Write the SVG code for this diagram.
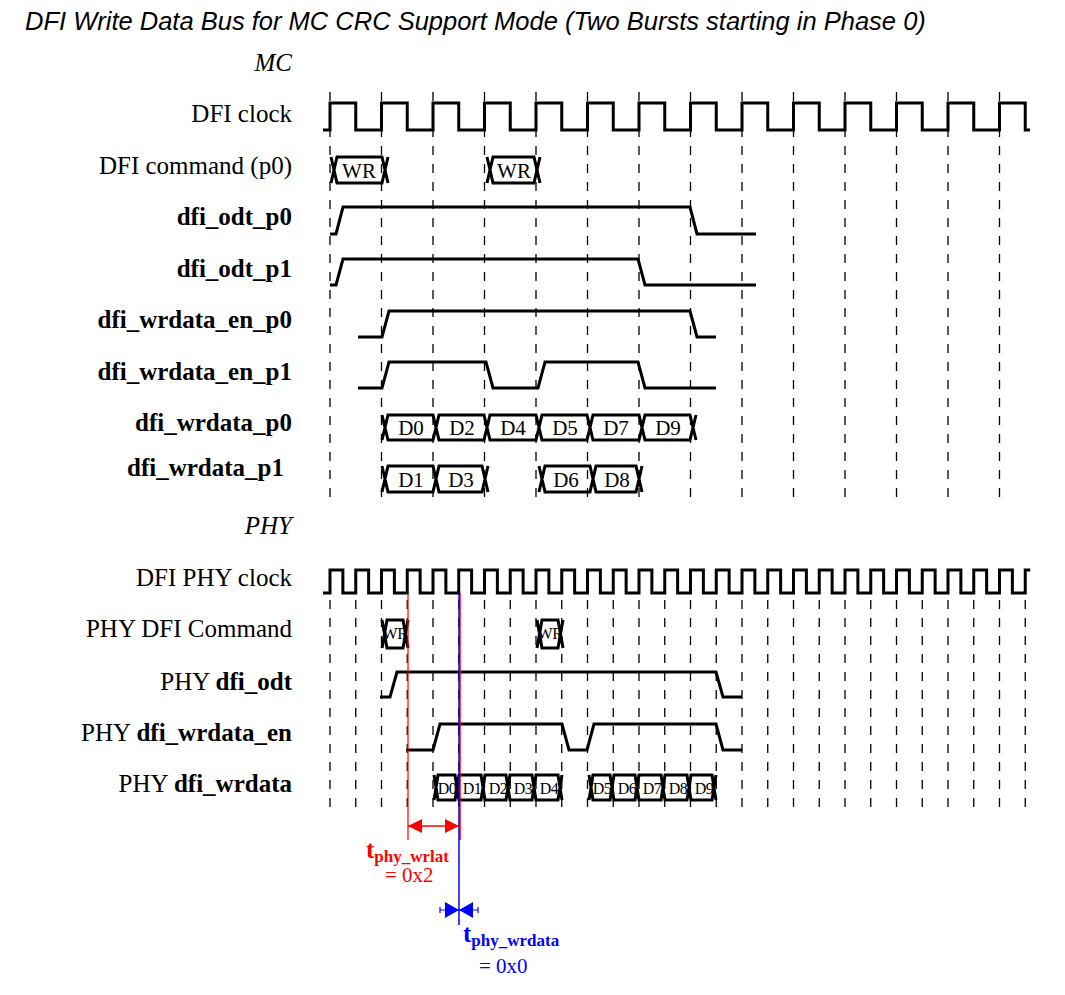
<svg xmlns="http://www.w3.org/2000/svg" width="1065" height="995" viewBox="0 0 1065 995">
<style>
.lb{font-family:"Liberation Serif",serif;font-size:25px;fill:#000;text-anchor:end}
.b{font-weight:bold}
.sig{fill:none;stroke:#000;stroke-width:3}
.dash{stroke:#000;stroke-width:1.3;stroke-dasharray:9,9}
.bx{font-family:"Liberation Serif",serif;font-size:21px;text-anchor:middle}
.bs{font-family:"Liberation Serif",serif;font-size:16px;text-anchor:middle;letter-spacing:-0.5px}
</style>
<rect width="1065" height="995" fill="#fff"/>
<text x="25" y="30" font-family="Liberation Sans,sans-serif" font-style="italic" font-size="25.5">DFI Write Data Bus for MC CRC Support Mode (Two Bursts starting in Phase 0)</text>
<text x="292" y="71" class="lb" font-style="italic">MC</text>
<text x="292" y="534" class="lb" font-style="italic">PHY</text>
<g id="labels">
<text x="292" y="122" class="lb">DFI clock</text>
<text x="292" y="174" class="lb">DFI command (p0)</text>
<text x="292" y="225" class="lb b">dfi_odt_p0</text>
<text x="292" y="277" class="lb b">dfi_odt_p1</text>
<text x="292" y="328" class="lb b">dfi_wrdata_en_p0</text>
<text x="292" y="380" class="lb b">dfi_wrdata_en_p1</text>
<text x="292" y="431" class="lb b">dfi_wrdata_p0</text>
<text x="284" y="476" class="lb b">dfi_wrdata_p1</text>
<text x="292" y="586" class="lb">DFI PHY clock</text>
<text x="292" y="637" class="lb">PHY DFI Command</text>
<text x="292" y="690" class="lb">PHY <tspan font-weight="bold">dfi_odt</tspan></text>
<text x="292" y="741" class="lb">PHY <tspan font-weight="bold">dfi_wrdata_en</tspan></text>
<text x="292" y="792" class="lb">PHY <tspan font-weight="bold">dfi_wrdata</tspan></text>
</g>
<g id="grid">
<path class="dash" d="M330,92V505M381.5,92V505M433,92V505M484.5,92V505M536,92V505M587.5,92V505M639,92V505M690.5,92V505M742,92V505M793.5,92V505M845,92V505M896.5,92V505M948,92V505M999.5,92V505"/>
<path class="dash" d="M330,600V812M355.75,600V812M381.5,600V812M407.25,600V812M433,600V812M458.75,600V812M484.5,600V812M510.25,600V812M536,600V812M561.75,600V812M587.5,600V812M613.25,600V812M639,600V812M664.75,600V812M690.5,600V812M716.25,600V812M742,600V812M767.75,600V812M793.5,600V812M819.25,600V812M845,600V812M870.75,600V812M896.5,600V812M922.25,600V812M948,600V812M973.75,600V812M999.5,600V812M1025.25,600V812"/>
</g>
<g id="mc-signals">
<path id="dfi-clock" class="sig" d="M323,130H330V103H355.75V130H381.5V103H407.25V130H433V103H458.75V130H484.5V103H510.25V130H536V103H561.75V130H587.5V103H613.25V130H639V103H664.75V130H690.5V103H716.25V130H742V103H767.75V130H793.5V103H819.25V130H845V103H870.75V130H896.5V103H922.25V130H948V103H973.75V130H999.5V103H1025.25V130H1030"/>
<g id="cmd">
<path class="sig" fill="#fff" d="M331,157L337,183H382L388,157M331,183L337,157H382L388,183"/>
<text x="359" y="178" class="bx">WR</text>
<path class="sig" fill="#fff" d="M487,157L493,183H534L540,157M487,183L493,157H534L540,183"/>
<text x="514" y="178" class="bx">WR</text>
</g>
<path id="odt-p0" class="sig" d="M330,234H336L343,207H690L697,234H756"/>
<path id="odt-p1" class="sig" d="M330,285H336L343,259H638L645,285H756"/>
<path id="en-p0" class="sig" d="M358,337H382L389,311H690L697,337H716"/>
<path id="en-p1" class="sig" d="M358,388H382L389,362H486L493,388H538L545,362H638L645,388H716"/>
<g id="wrdata-p0">
<path class="sig" fill="#fff" d="M382,415L388,440H433L439,415H484L490,440H536L542,415H587L593,440H639L645,415H690L696,440M382,440L388,415H433L439,440H484L490,415H536L542,440H587L593,415H639L645,440H690L696,415"/>
<text x="411" y="435" class="bx">D0</text><text x="462" y="435" class="bx">D2</text><text x="513" y="435" class="bx">D4</text><text x="565" y="435" class="bx">D5</text><text x="616" y="435" class="bx">D7</text><text x="668" y="435" class="bx">D9</text>
</g>
<g id="wrdata-p1">
<path class="sig" fill="#fff" d="M382,466L388,492H433L439,466H482L488,492M382,492L388,466H433L439,492H482L488,466M539,466L545,492H590L596,466H636L642,492M539,492L545,466H590L596,492H636L642,466"/>
<text x="411" y="487" class="bx">D1</text><text x="461" y="487" class="bx">D3</text><text x="566" y="487" class="bx">D6</text><text x="617" y="487" class="bx">D8</text>
</g>
</g>
<g id="phy-signals">
<path id="phy-clock" class="sig" d="M323,593H330v-23h12.875v23h12.875v-23h12.875v23h12.875v-23h12.875v23h12.875v-23h12.875v23h12.875v-23h12.875v23h12.875v-23h12.875v23h12.875v-23h12.875v23h12.875v-23h12.875v23h12.875v-23h12.875v23h12.875v-23h12.875v23h12.875v-23h12.875v23h12.875v-23h12.875v23h12.875v-23h12.875v23h12.875v-23h12.875v23h12.875v-23h12.875v23h12.875v-23h12.875v23h12.875v-23h12.875v23h12.875v-23h12.875v23h12.875v-23h12.875v23h12.875v-23h12.875v23h12.875v-23h12.875v23h12.875v-23h12.875v23h12.875v-23h12.875v23h12.875v-23h12.875v23h12.875v-23h12.875v23h12.875v-23h12.875v23h12.875v-23h12.875v23h12.875v-23h5"/>
<g id="phy-cmd">
<path class="sig" fill="#fff" d="M382,620L387,648H403L408,620M382,648L387,620H403L408,648M537,620L542,648H558L563,620M537,648L542,620H558L563,648"/>
<text x="395" y="639" class="bs">WR</text><text x="550" y="639" class="bs">WR</text>
</g>
<path id="phy-odt" class="sig" d="M380,697H390L397,672H716L723,697H742"/>
<path id="phy-en" class="sig" d="M406,750H433L440,724H562L569,750H587L594,724H716L723,750H742"/>
<g id="phy-wrdata">
<path class="sig" fill="#fff" d="M434,775L438,800H455L459,775H481L485,800H506L510,775H532L536,800H558L562,775M434,800L438,775H455L459,800H481L485,775H506L510,800H532L536,775H558L562,800M589,775L593,800H610L614,775H635L639,800H661L665,775H687L691,800H712L716,775M589,800L593,775H610L614,800H635L639,775H661L665,800H687L691,775H712L716,800"/>
<text x="447" y="794" class="bs">D0</text><text x="472" y="794" class="bs">D1</text><text x="498" y="794" class="bs">D2</text><text x="523" y="794" class="bs">D3</text><text x="549" y="794" class="bs">D4</text>
<text x="602" y="794" class="bs">D5</text><text x="627" y="794" class="bs">D6</text><text x="652" y="794" class="bs">D7</text><text x="678" y="794" class="bs">D8</text><text x="704" y="794" class="bs">D9</text>
</g>
</g>
<g id="connectors">
<line x1="408" y1="593" x2="408" y2="840" stroke="red" stroke-width="1.2"/>
<line x1="460" y1="593" x2="460" y2="840" stroke="red" stroke-width="1.5"/>
<line x1="459" y1="593" x2="459" y2="925" stroke="blue" stroke-width="1.5"/>
<path d="M408,826H459" stroke="red" stroke-width="1.5"/>
<polygon points="408,826 422,819 422,833" fill="red"/>
<polygon points="459,826 445,819 445,833" fill="red"/>
<path d="M440,910H478M440,907V913M478,907V913" stroke="blue" stroke-width="1.2"/>
<polygon points="459,910 445,902 445,918" fill="blue"/>
<polygon points="459,910 473,902 473,918" fill="blue"/>
</g>
<g id="annotations" font-family="Liberation Serif,serif">
<text x="366" y="858" fill="red" font-weight="bold" font-size="25">t<tspan font-size="17" dy="4">phy_wrlat</tspan></text>
<text x="385" y="882" fill="red" font-size="21">= 0x2</text>
<text x="463" y="942" fill="blue" font-weight="bold" font-size="25">t<tspan font-size="17" dy="4">phy_wrdata</tspan></text>
<text x="479" y="973" fill="blue" font-size="21">= 0x0</text>
</g>
</svg>
